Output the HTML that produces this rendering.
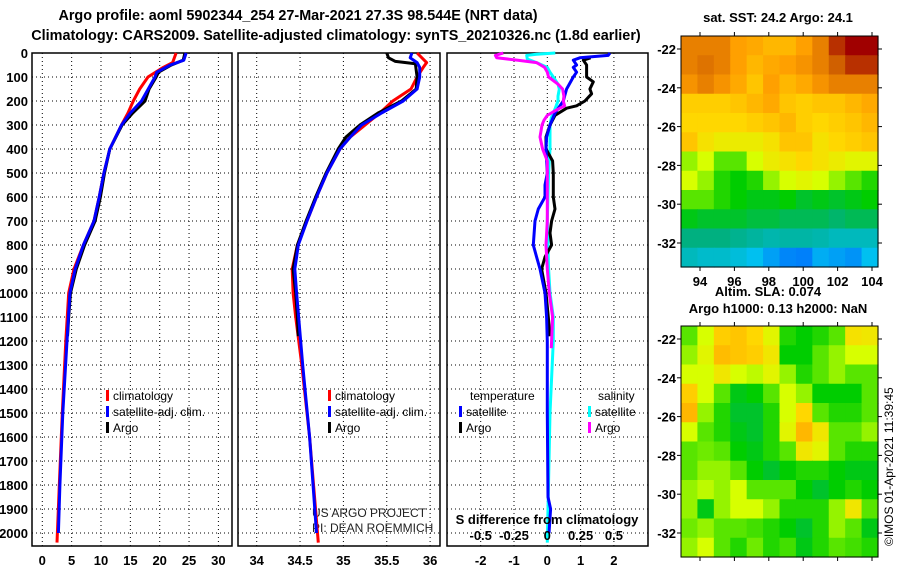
<!DOCTYPE html>
<html><head><meta charset="utf-8"><style>
html,body{margin:0;padding:0;background:#fff}
svg{display:block;font-family:"Liberation Sans",sans-serif}
.b{font-weight:bold;font-size:13px}
.t{font-weight:bold;font-size:14.4px}
.n{font-size:12px}
</style></head><body>
<svg id="c" width="900" height="580" viewBox="0 0 900 580" xmlns="http://www.w3.org/2000/svg">
<text class="t" x="298" y="20" text-anchor="middle">Argo profile: aoml 5902344_254 27-Mar-2021 27.3S 98.544E (NRT data)</text>
<text class="t" x="336" y="40" text-anchor="middle">Climatology: CARS2009. Satellite-adjusted climatology: synTS_20210326.nc (1.8d earlier)</text>
<text class="b" x="778" y="22" text-anchor="middle">sat. SST: 24.2 Argo: 24.1</text>
<text class="b" x="768" y="296" text-anchor="middle">Altim. SLA: 0.074</text>
<text class="b" x="778" y="313" text-anchor="middle">Argo h1000: 0.13 h2000: NaN</text>
<text class="n" x="0" y="0" transform="translate(893,546) rotate(-90)">©IMOS 01-Apr-2021 11:39:45</text>
<text class="n" x="312" y="517" fill="#222">US ARGO PROJECT</text>
<text class="n" x="312" y="532" fill="#222">PI: DEAN ROEMMICH</text>
<g id="g"></g>
</svg>
<script>
// ---- data ----
const depthTicks=[0,100,200,300,400,500,600,700,800,900,1000,1100,1200,1300,1400,1500,1600,1700,1800,1900,2000];
const tTicks=[0,5,10,15,20,25,30];
const sTicks=[34,34.5,35,35.5,36];
const dTicks=[-2,-1,0,1,2];
const sdTicks=[-0.5,-0.25,0,0.25,0.5];
const tClimD=[0,40,60,100,150,200,250,300,400,500,600,700,800,900,1000,1200,1500,1800,2040];
const tClimV=[22.8,22.2,20.6,18,16.6,15.5,14.6,13.5,11.5,10.5,9.7,8.8,7.0,5.4,4.5,4.0,3.4,2.9,2.5];
const tSatD=[0,30,50,80,100,200,250,300,400,500,600,700,800,900,1000,1200,1500,1800,2000];
const tSatV=[24.5,24.1,21.8,19.5,19.2,16.9,15,13.5,11.5,10.5,9.7,8.8,7.0,5.6,4.7,4.2,3.5,3.0,2.75];
const tArgoD=[0,30,50,80,100,150,200,250,300,400,500,600,700,800,900,1000,1100,1180];
const tArgoV=[24.3,24.0,22.0,19.8,19.4,18.2,17.5,15.4,13.6,11.5,10.6,9.9,9.0,7.2,5.8,4.8,4.5,4.3];
const sClimD=[0,40,60,100,150,200,250,300,350,400,500,600,700,800,900,1000,1100,1300,1600,2040];
const sClimV=[35.85,35.96,35.92,35.85,35.78,35.57,35.42,35.25,35.08,34.96,34.81,34.69,34.58,34.47,34.41,34.42,34.45,34.52,34.61,34.71];
const sSatD=[0,20,40,60,100,150,200,250,300,350,400,500,600,700,800,850,900,1000,1300,1600,2000];
const sSatV=[35.79,35.77,35.85,35.88,35.88,35.85,35.69,35.44,35.21,35.08,34.96,34.81,34.69,34.58,34.48,34.46,34.44,34.46,34.53,34.61,34.69];
const sArgoD=[0,20,35,45,100,150,200,250,300,350,400,500,600,700,800,900,1000,1100,1180];
const sArgoV=[35.5,35.52,35.6,35.83,35.85,35.84,35.67,35.40,35.19,35.03,34.94,34.80,34.68,34.57,34.47,34.42,34.45,34.47,34.48];
const dtSatD=[0,10,20,30,50,60,80,100,150,200,250,300,350,400,500,550,600,650,700,800,850,900,1000,1100,1200,1500,1850,1900,2000];
const dtSatV=[1.88,1.83,0.98,0.78,0.88,0.78,0.88,0.78,0.58,0.48,0.23,0.08,-0.02,-0.04,0,-0.07,-0.07,-0.27,-0.37,-0.42,-0.32,-0.22,-0.07,-0.02,0,0,0.02,0.1,0.05];
const dtArgoD=[20,30,50,80,100,120,150,170,200,220,230,260,300,350,400,450,500,600,650,700,750,800,850,900,1000,1100,1180];
const dtArgoV=[1.3,1.08,1.18,1.18,1.18,1.38,1.28,1.33,1.13,0.88,0.58,0.23,0.08,-0.04,-0.04,0.16,0.18,0.18,0.23,0.13,0.08,0.13,-0.07,-0.17,-0.04,0.03,0.08];
const dsSatD=[0,5,10,25,40,60,80,100,130,150,180,200,230,270,300,400,500,700,900,1000,1100,1200,1500,2040];
const dsSatV=[0.06,-0.08,-0.155,-0.15,-0.08,0,0.02,0.045,0.08,0.09,0.08,0.08,0.06,0.03,0.02,0.02,0.01,0,0.01,0.02,0.045,0.045,0.02,0];
const dsArgoD=[0,10,20,30,40,60,80,100,130,150,180,200,220,240,260,280,300,350,400,450,500,600,700,800,900,1000,1100,1230];
const dsArgoV=[-0.33,-0.39,-0.38,-0.22,-0.08,-0.02,0,0.01,0.08,0.115,0.125,0.12,0.13,0.06,0,-0.025,-0.04,-0.055,-0.035,0,0.0,0,0,-0.01,0,0.015,0.04,0.03];
const sstLonTicks=[94,96,98,100,102,104];
const latTicks=[-22,-24,-26,-28,-30,-32];
const sstGrid=[
[0.85,0.85,0.85,0.8,0.78,0.75,0.75,0.8,0.85,0.95,1.0,1.0],
[0.85,0.87,0.85,0.8,0.75,0.78,0.8,0.82,0.85,0.9,0.95,0.95],
[0.82,0.85,0.82,0.78,0.72,0.8,0.75,0.78,0.82,0.85,0.85,0.85],
[0.7,0.7,0.7,0.72,0.75,0.78,0.72,0.7,0.72,0.72,0.75,0.78],
[0.68,0.68,0.68,0.68,0.7,0.72,0.75,0.7,0.68,0.7,0.72,0.75],
[0.72,0.66,0.64,0.64,0.64,0.66,0.72,0.72,0.66,0.68,0.7,0.72],
[0.55,0.6,0.5,0.5,0.6,0.64,0.66,0.68,0.66,0.64,0.62,0.62],
[0.6,0.55,0.45,0.42,0.45,0.55,0.6,0.62,0.6,0.55,0.5,0.45],
[0.5,0.5,0.45,0.42,0.4,0.4,0.42,0.38,0.4,0.38,0.4,0.42],
[0.4,0.38,0.38,0.38,0.36,0.36,0.34,0.34,0.34,0.32,0.34,0.34],
[0.3,0.3,0.3,0.28,0.26,0.24,0.25,0.25,0.24,0.22,0.22,0.22],
[0.22,0.2,0.2,0.18,0.15,0.1,0.06,0.05,0.12,0.1,0.08,0.15]];
const slaGrid=[
[0.5,0.6,0.7,0.72,0.68,0.62,0.45,0.42,0.45,0.5,0.66,0.65],
[0.55,0.62,0.74,0.72,0.7,0.65,0.42,0.42,0.5,0.55,0.6,0.6],
[0.6,0.6,0.65,0.6,0.58,0.62,0.55,0.45,0.5,0.55,0.5,0.5],
[0.7,0.6,0.5,0.4,0.42,0.5,0.6,0.55,0.42,0.42,0.42,0.5],
[0.75,0.55,0.45,0.38,0.38,0.45,0.6,0.68,0.5,0.45,0.45,0.5],
[0.6,0.5,0.45,0.4,0.38,0.45,0.62,0.75,0.65,0.5,0.5,0.55],
[0.5,0.52,0.5,0.42,0.4,0.45,0.5,0.65,0.62,0.5,0.45,0.45],
[0.5,0.55,0.55,0.5,0.42,0.38,0.42,0.45,0.45,0.42,0.4,0.4],
[0.55,0.58,0.55,0.6,0.5,0.5,0.5,0.42,0.38,0.42,0.45,0.42],
[0.55,0.4,0.55,0.6,0.6,0.55,0.45,0.45,0.45,0.55,0.65,0.5],
[0.52,0.55,0.5,0.5,0.48,0.45,0.42,0.38,0.45,0.55,0.5,0.4],
[0.55,0.6,0.5,0.45,0.52,0.45,0.48,0.4,0.45,0.5,0.48,0.45]];

const NS='http://www.w3.org/2000/svg';
const G=document.getElementById('g');
function mk(t,a,p){const e=document.createElementNS(NS,t);for(const k in a)e.setAttribute(k,a[k]);(p||G).appendChild(e);return e;}
const Y0=53, PY=0.24;
function yD(d){return Y0+d*PY;}
const TOP=53,BOT=546;
const panels={t:{l:32,r:232},s:{l:238,r:440},d:{l:447,r:648}};
function xf(p){const z=p==='t'?{a:42.3,k:5.87}:p==='s'?{a:256.7,k:86.7}:{a:547.3,k:33.3};return v=>z.a+(p==='s'?(v-34):v)*z.k;}
const xT=xf('t'),xS=xf('s'),xDf=xf('d');
function frame(p,xs,ticks,name){
 const P=panels[p];
 depthTicks.forEach(d=>{const l=mk('line',{x1:P.l,x2:P.r,y1:yD(d),y2:yD(d),stroke:'#000','stroke-width':1,'stroke-dasharray':'1,3'});
 
 });
 ticks.forEach((v,i)=>{const x=xs(v);const l=mk('line',{x1:x,x2:x,y1:TOP,y2:BOT,stroke:'#000','stroke-width':1,'stroke-dasharray':'1,3'});
 
 
 const t=mk('text',{x:x,y:565,'text-anchor':'middle','class':'b'});t.textContent=String(v);
 
 });
 const r=mk('rect',{x:P.l,y:TOP,width:P.r-P.l,height:BOT-TOP,fill:'none',stroke:'#000','stroke-width':1.5});
 
 
}
frame('t',xT,tTicks,'temperature');
frame('s',xS,sTicks,'salinity');
frame('d',xDf,dTicks,'difference');
depthTicks.forEach(d=>{const t=mk('text',{x:28,y:yD(d)+5,'text-anchor':'end','class':'b'});t.textContent=String(d);
 
 });
function line(D,V,xs,col,name,sc){
 const pts=D.map((d,i)=>xs(V[i]*(sc||1)).toFixed(1)+','+yD(d).toFixed(1)).join(' ');
 const e=mk('polyline',{points:pts,fill:'none',stroke:col,'stroke-width':3,'stroke-linejoin':'round'});
 
 
}
line(tClimD,tClimV,xT,'#f00','temp-climatology-line');
line(tArgoD,tArgoV,xT,'#000','temp-argo-line');
line(tSatD,tSatV,xT,'#00f','temp-satellite-line');
line(sClimD,sClimV,xS,'#f00','sal-climatology-line');
line(sArgoD,sArgoV,xS,'#000','sal-argo-line');
line(sSatD,sSatV,xS,'#00f','sal-satellite-line');
line(dsSatD,dsSatV,xDf,'#0ff','sdiff-satellite-line',4);
line(dtArgoD,dtArgoV,xDf,'#000','tdiff-argo-line');
line(dtSatD,dtSatV,xDf,'#00f','tdiff-satellite-line');
line(dsArgoD,dsArgoV,xDf,'#f0f','sdiff-argo-line',4);
sdTicks.forEach(v=>{const t=mk('text',{x:xDf(v*4),y:540,'text-anchor':'middle','class':'b'});t.textContent=String(v);
 
 });
{const t=mk('text',{x:547,y:524,'text-anchor':'middle','class':'b'});t.textContent='S difference from climatology';
 
 }
function leg(x,y,col,label,name){
 const r=mk('rect',{x:x,y:y-10,width:3,height:11,fill:col});
 
 
 const t=mk('text',{x:x+7,y:y,'class':'n'});t.textContent=label;
 
 
}
leg(106,400,'#f00','climatology','legend-t-climatology');
leg(106,416,'#00f','satellite-adj. clim.','legend-t-satellite');
leg(106,432,'#000','Argo','legend-t-argo');
leg(328,400,'#f00','climatology','legend-s-climatology');
leg(328,416,'#00f','satellite-adj. clim.','legend-s-satellite');
leg(328,432,'#000','Argo','legend-s-argo');
{const t=mk('text',{x:470,y:400,'class':'n'});t.textContent='temperature';
 
 
 const u=mk('text',{x:598,y:400,'class':'n'});u.textContent='salinity';
 
 }
leg(459,416,'#00f','satellite','legend-tdiff-satellite');
leg(459,432,'#000','Argo','legend-tdiff-argo');
leg(588,416,'#0ff','satellite','legend-sdiff-satellite');
leg(588,432,'#f0f','Argo','legend-sdiff-argo');
const cmStops=[[0,[0,96,255]],[0.15,[0,192,240]],[0.3,[0,176,128]],[0.42,[0,205,0]],[0.52,[110,235,0]],[0.6,[215,255,0]],[0.68,[255,215,0]],[0.8,[255,160,0]],[0.9,[208,96,0]],[1,[160,0,0]]];
function cm(v){for(let i=1;i<cmStops.length;i++){if(v<=cmStops[i][0]){const a=cmStops[i-1],b=cmStops[i];const f=(v-a[0])/(b[0]-a[0]);return 'rgb('+a[1].map((c,k)=>Math.round(c+(b[1][k]-c)*f)).join(',')+')';}}return 'rgb(160,0,0)';}
function map(grid,L,R,T,B,name,lonLabels){
 const lon=v=>700+(v-94)*17.2;
 const lat=v=>(T===36?49:339)+(-22-v)*19.4;
 const nr=grid.length,nc=grid[0].length,cw=(R-L)/nc,ch=(B-T)/nr;
 grid.forEach((row,i)=>row.forEach((v,j)=>{const r=mk('rect',{x:L+j*cw,y:T+i*ch,width:cw+0.6,height:ch+0.6,fill:cm(v)});
 
 }));
 const f=mk('rect',{x:L,y:T,width:R-L,height:B-T,fill:'none',stroke:'#000','stroke-width':1});
 
 
 latTicks.forEach(v=>{const y=lat(v);mk('line',{x1:L-4,x2:L,y1:y,y2:y,stroke:'#000'});mk('line',{x1:R,x2:R+4,y1:y,y2:y,stroke:'#000'});
 const t=mk('text',{x:L-5,y:y+5,'text-anchor':'end','class':'b'});t.textContent=String(v);
 
 });
 sstLonTicks.forEach(v=>{const x=lon(v);mk('line',{x1:x,x2:x,y1:T-4,y2:T,stroke:'#000'});mk('line',{x1:x,x2:x,y1:B,y2:B+4,stroke:'#000'});
 if(lonLabels){const t=mk('text',{x:x,y:B+19,'text-anchor':'middle','class':'b'});t.textContent=String(v);
 
 }});
}
map(sstGrid,681,878,36,267,'sst-map',true);
map(slaGrid,681,878,326,557,'sla-map',false);
</script>
</body></html>
